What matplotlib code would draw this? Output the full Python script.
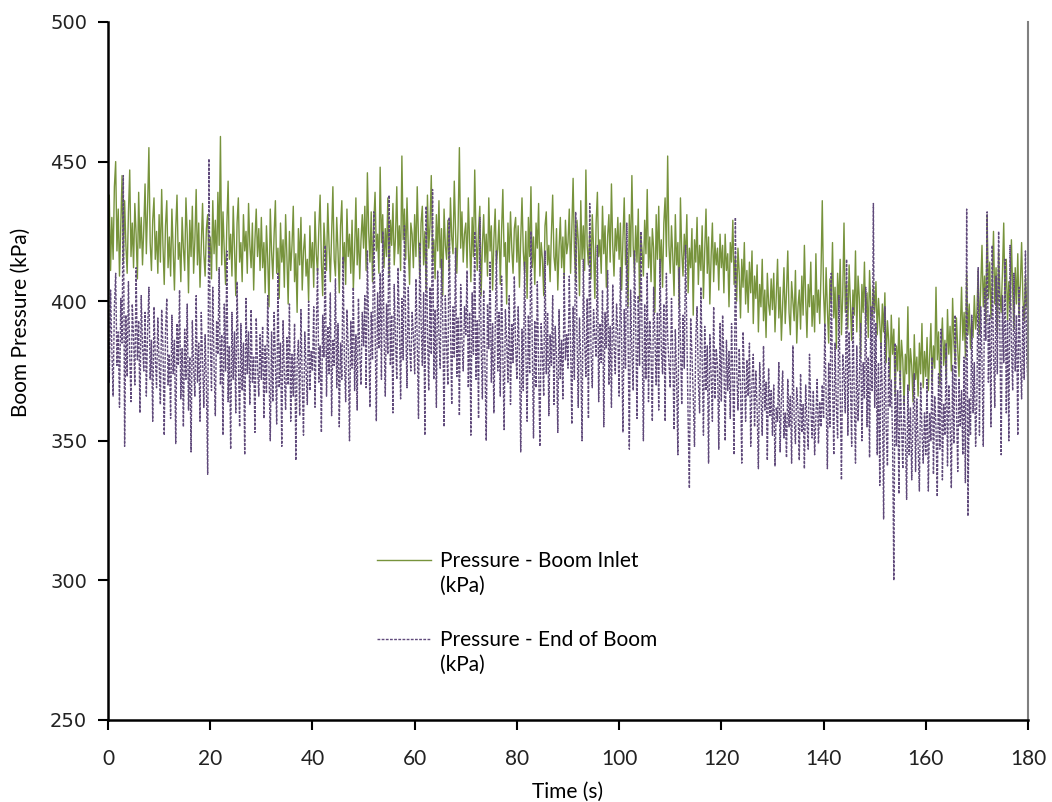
import numpy as np
import matplotlib
matplotlib.use("Agg")
import matplotlib.pyplot as plt
from matplotlib.lines import Line2D
from matplotlib.legend_handler import HandlerLine2D

STEP = 0.25  # s between readings

# Pressure at boom inlet (kPa), 10 s per two rows
inlet_kpa = [
    422, 438, 411, 430, 415, 441, 450, 418, 433, 409, 427, 445, 414, 436, 420, 410, 432, 447, 416, 428,
    412, 435, 424, 408, 439, 419, 430, 413, 426, 442, 417, 434, 455, 421, 411, 429, 437, 415, 425, 410,
    431, 414, 440, 420, 406, 427, 436, 412, 423, 409, 433, 418, 404, 426, 438, 415, 421, 407, 430, 419,
    411, 437, 424, 403, 429, 416, 434, 410, 422, 440, 413, 428, 405, 420, 435, 417, 409, 426, 431, 414,
    423, 408, 436, 417, 429, 411, 439, 420, 459, 413, 432, 418, 406, 427, 443, 415, 424, 409, 434, 419,
    402, 428, 437, 414, 421, 407, 431, 418, 425, 410, 435, 420, 412, 428, 404, 422, 433, 416, 426, 411,
    430, 412, 421, 403, 427, 415, 398, 433, 418, 408, 424, 436, 410, 419, 401, 428, 414, 422, 405, 431,
    416, 399, 425, 411, 420, 434, 407, 417, 396, 426, 413, 430, 404, 418, 424, 409, 415, 400, 427, 412,
    421, 405, 432, 417, 410, 426, 438, 414, 402, 428, 419, 411, 435, 420, 407, 424, 441, 415, 409, 430,
    418, 403, 427, 436, 412, 421, 406, 433, 416, 424, 410, 429, 404, 418, 437, 413, 426, 408, 422, 431,
    419, 434, 411, 446, 425, 414, 432, 407, 428, 439, 418, 424, 410, 448, 421, 431, 412, 426, 416, 437,
    409, 429, 420, 435, 413, 423, 441, 417, 427, 411, 452, 422, 433, 415, 437, 419, 406, 428, 424, 412,
    431, 416, 441, 422, 409, 428, 434, 413, 425, 404, 438, 419, 427, 445, 414, 422, 408, 431, 418, 436,
    412, 426, 402, 433, 420, 415, 429, 411, 437, 423, 417, 443, 425, 410, 427, 455, 419, 432, 414, 424,
    428, 412, 437, 421, 407, 430, 416, 447, 423, 411, 426, 434, 402, 420, 431, 414, 424, 409, 437, 418,
    427, 404, 422, 433, 413, 419, 429, 406, 425, 440, 416, 421, 399, 428, 414, 432, 419, 410, 426, 430,
    414, 427, 405, 422, 437, 418, 410, 425, 401, 430, 416, 441, 412, 423, 406, 428, 419, 435, 409, 421,
    415, 402, 427, 432, 413, 420, 407, 424, 438, 416, 411, 426, 404, 419, 430, 412, 423, 408, 429, 417,
    421, 433, 410, 426, 444, 418, 407, 429, 422, 402, 436, 415, 427, 411, 447, 420, 413, 425, 408, 431,
    419, 401, 428, 439, 416, 422, 410, 434, 417, 427, 405, 423, 431, 414, 442, 420, 409, 426, 418, 430,
    415, 428, 404, 422, 437, 413, 419, 398, 431, 416, 445, 420, 410, 427, 414, 433, 400, 424, 418, 409,
    429, 417, 440, 412, 423, 407, 426, 419, 396, 431, 415, 434, 411, 422, 405, 428, 437, 416, 452, 420,
    410, 427, 416, 402, 431, 413, 421, 398, 437, 418, 409, 424, 415, 431, 403, 419, 412, 426, 395, 422,
    414, 430, 406, 420, 411, 427, 401, 418, 433, 410, 423, 399, 416, 428, 407, 421, 413, 419, 404, 424,
    412, 420, 403, 424, 411, 417, 398, 421, 414, 429, 406, 416, 400, 419, 410, 394, 415, 405, 421, 399,
    411, 396, 414, 403, 418, 392, 409, 401, 413, 389, 406, 398, 415, 393, 404, 387, 410, 399, 395, 408,
    397, 410, 389, 402, 415, 394, 405, 386, 399, 412, 392, 403, 418, 396, 388, 407, 400, 393, 411, 385,
    398, 404, 390, 409, 395, 420, 401, 387, 406, 398, 414, 391, 402, 389, 417, 396, 404, 392, 410, 436,
    403, 391, 412, 397, 385, 408, 399, 421, 394, 405, 383, 410, 398, 415, 388, 402, 428, 396, 407, 390,
    413, 399, 386, 404, 395, 418, 389, 409, 401, 380, 406, 396, 414, 392, 403, 387, 411, 398, 394, 405,
    396, 407, 388, 401, 392, 383, 399, 389, 403, 378, 393, 386, 372, 395, 381, 390, 366, 384, 375, 394,
    370, 386, 379, 363, 381, 374, 398, 368, 383, 377, 364, 388, 372, 380, 366, 385, 374, 392, 369, 382,
    373, 387, 368, 380, 392, 371, 384, 376, 405, 379, 389, 370, 383, 394, 377, 386, 372, 397, 381, 391,
    375, 401, 385, 378, 394, 383, 373, 390, 405, 386, 396, 380, 410, 388, 399, 383, 393, 387, 402, 390,
    396, 411, 388, 405, 420, 398, 409, 392, 431, 401, 414, 394, 406, 425, 399, 412, 389, 418, 403, 396,
    410, 428, 400, 415, 393, 407, 397, 422, 404, 390, 412, 399, 417, 395, 406, 421, 401, 393, 409, 398,
    404,
]

# Pressure at end of boom (kPa)
end_kpa = [
    392, 371, 404, 383, 366, 398, 410, 377, 389, 362, 401, 385, 445, 348, 395, 373, 407, 381, 364, 399,
    387, 370, 412, 379, 393, 360, 402, 384, 375, 396, 366, 390, 405, 372, 386, 357, 398, 380, 369, 394,
    378, 363, 397, 384, 352, 389, 401, 370, 381, 358, 395, 374, 386, 349, 392, 377, 404, 365, 383, 355,
    390, 372, 399, 361, 380, 346, 393, 376, 366, 402, 371, 385, 357, 396, 379, 362, 388, 370, 338, 451,
    386, 368, 405, 377, 359, 393, 381, 412, 370, 388, 352, 399, 375, 418, 364, 384, 347, 396, 372, 389,
    360, 407, 379, 355, 392, 368, 385, 345, 401, 374, 389, 363, 397, 371, 380, 353, 394, 377, 366, 388,
    372, 391, 358, 384, 367, 402, 375, 350, 389, 364, 396, 378, 356, 410, 369, 385, 348, 393, 374, 361,
    387, 370, 399, 357, 381, 366, 392, 343, 378, 386, 359, 397, 371, 352, 389, 376, 363, 400, 368, 382,
    375, 398, 362, 389, 412, 371, 384, 353, 395, 380, 420, 366, 391, 374, 403, 359, 386, 377, 408, 369,
    392, 355, 385, 372, 416, 379, 364, 397, 383, 350, 393, 376, 405, 368, 388, 361, 401, 382, 370, 396,
    384, 402, 369, 418, 388, 362, 396, 379, 432, 391, 357, 403, 383, 410, 372, 425, 389, 366, 399, 381,
    438, 377, 395, 360, 406, 386, 372, 412, 393, 365, 401, 379, 427, 390, 369, 405, 384, 375, 396, 388,
    374, 408, 386, 358, 421, 393, 377, 403, 352, 434, 389, 368, 405, 381, 440, 372, 397, 362, 411, 388,
    376, 415, 393, 355, 402, 384, 370, 430, 391, 363, 398, 380, 419, 373, 394, 359, 406, 386, 375, 398,
    388, 411, 369, 396, 352, 403, 381, 425, 372, 393, 358, 430, 386, 365, 404, 377, 350, 399, 383, 414,
    371, 392, 360, 388, 418, 375, 396, 366, 409, 381, 354, 397, 386, 371, 402, 363, 392, 378, 409, 384,
    372, 398, 380, 346, 390, 368, 414, 383, 357, 395, 374, 425, 385, 351, 393, 369, 407, 378, 348, 392,
    381, 366, 418, 374, 396, 359, 388, 377, 402, 363, 391, 380, 353, 397, 372, 386, 365, 410, 379, 388,
    376, 409, 385, 356, 398, 372, 432, 389, 362, 394, 379, 350, 415, 386, 373, 401, 358, 435, 382, 369,
    397, 387, 380, 420, 364, 392, 378, 404, 355, 396, 383, 411, 370, 391, 362, 406, 385, 374, 399, 388,
    366, 412, 385, 353, 397, 376, 428, 389, 347, 404, 382, 368, 418, 391, 358, 402, 377, 425, 386, 350,
    399, 372, 410, 364, 393, 381, 357, 405, 388, 370, 396, 361, 415, 383, 374, 399, 357, 410, 387, 378,
    369, 401, 380, 354, 390, 372, 345, 412, 385, 363, 395, 376, 420, 388, 358, 333, 394, 381, 366, 348,
    387, 398, 371, 360, 405, 379, 352, 391, 368, 384, 342, 388, 374, 357, 398, 365, 383, 377, 347, 392,
    364, 395, 378, 350, 386, 368, 382, 358, 392, 372, 345, 430, 376, 361, 383, 370, 342, 389, 374, 357,
    379, 366, 385, 348, 371, 381, 355, 375, 362, 340, 378, 366, 352, 384, 361, 371, 343, 376, 359, 368,
    352, 370, 341, 362, 357, 378, 346, 365, 375, 351, 360, 344, 372, 355, 366, 342, 384, 358, 349, 369,
    361, 343, 374, 353, 363, 340, 370, 357, 347, 381, 362, 351, 368, 345, 358, 372, 349, 364, 355, 370,
    358, 392, 366, 340, 378, 355, 410, 372, 345, 385, 363, 351, 402, 369, 336, 381, 374, 360, 415, 352,
    389, 371, 348, 398, 366, 342, 384, 357, 372, 392, 350, 378, 365, 405, 355, 380, 344, 398, 368, 435,
    362, 392, 345, 378, 334, 385, 368, 322, 398, 355, 341, 380, 362, 372, 351, 300, 385, 348, 368, 331,
    375, 356, 340, 366, 352, 329, 370, 345, 362, 336, 358, 374, 339, 365, 348, 332, 371, 354, 342, 360,
    345, 372, 332, 360, 350, 380, 338, 366, 355, 330, 374, 347, 390, 336, 363, 352, 385, 341, 370, 358,
    333, 377, 349, 395, 362, 339, 372, 355, 368, 345, 380, 335, 433, 323, 365, 352, 395, 360, 378, 348,
    366, 412, 352, 398, 379, 348, 405, 386, 432, 371, 395, 355, 420, 382, 362, 409, 374, 425, 388, 345,
    402, 378, 415, 360, 393, 350, 420, 384, 368, 410, 375, 395, 352, 405, 380, 365, 398, 372, 418, 380,
    370,
]

series_labels = ["Pressure - Boom Inlet\n(kPa)", "Pressure - End of Boom\n(kPa)"]
x_ticks = list(range(0, 181, 20))
y_ticks = list(range(250, 501, 50))

inlet_t = np.arange(len(inlet_kpa)) * STEP
end_t = np.arange(len(end_kpa)) * STEP

GREEN = "#77933C"
PURPLE = "#604A7B"
TXT = ["Lato", "DejaVu Sans"]
LEG_FS = 15
LEG_LS = 1.33


class FirstLineHandler(HandlerLine2D):
    # legend sample sits level with the first line of a two-line label
    def create_artists(self, legend, orig_handle, xdescent, ydescent,
                       width, height, fontsize, trans):
        artists = super().create_artists(legend, orig_handle, xdescent, ydescent,
                                         width, height, fontsize, trans)
        shift = 0.5 * LEG_LS * fontsize
        for a in artists:
            a.set_ydata(np.asarray(a.get_ydata(), dtype=float) + shift)
        return artists


fig = plt.figure(figsize=(10.52, 8.02), dpi=100)
ax = fig.add_axes([108 / 1052, 82 / 802, 920 / 1052, 698 / 802])

ax.plot(inlet_t, inlet_kpa, color=GREEN, lw=1.0, label=series_labels[0])
ax.plot(end_t, end_kpa, color=PURPLE, lw=1.0, dashes=(2, 1), label=series_labels[1])

ax.set_xlim(0, 180)
ax.set_ylim(250, 500)
ax.set_xticks(x_ticks)
ax.set_yticks(y_ticks)

ax.spines["top"].set_visible(False)
ax.spines["left"].set_linewidth(1.8)
ax.spines["bottom"].set_linewidth(1.8)
ax.spines["right"].set_color("#808080")
ax.spines["right"].set_linewidth(1.5)
ax.tick_params(axis="both", direction="out", length=7, width=1.5, colors="black",
               labelcolor="#222222")
ax.tick_params(axis="x", pad=14, labelsize=15, labelfontfamily="Lato")
ax.tick_params(axis="y", pad=8, labelsize=14, labelfontfamily="DejaVu Sans")

ax.set_xlabel("Time (s)", family=TXT, fontsize=15, labelpad=9)
ax.set_ylabel("Boom Pressure (kPa)", family=TXT, fontsize=15)
ax.yaxis.set_label_coords(-0.084, 0.569)

leg = ax.legend(loc="upper left", bbox_to_anchor=(377 / 1052, 1 - 551 / 802),
                bbox_transform=fig.transFigure, frameon=False,
                prop={"family": TXT, "size": LEG_FS},
                handlelength=2.6, handletextpad=0.43, borderpad=0, borderaxespad=0,
                labelspacing=1.6,
                handler_map={Line2D: FirstLineHandler()})
for t in leg.get_texts():
    t.set_linespacing(LEG_LS)

fig.savefig("out.png", dpi=100)
